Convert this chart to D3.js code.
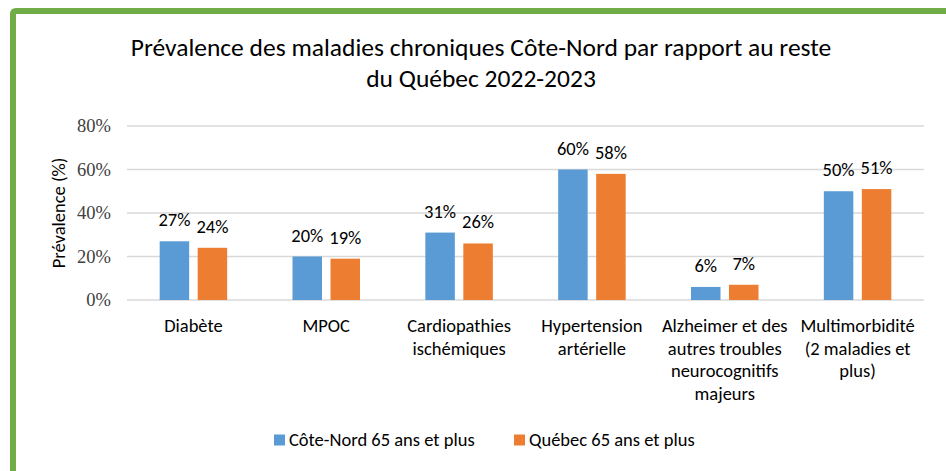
<!DOCTYPE html>
<html>
<head>
<meta charset="utf-8">
<script src="https://cdn.jsdelivr.net/npm/d3@7"></script>
<style>
  body { margin: 0; background: #fff; }
  svg { display: block; }
</style>
</head>
<body>
<svg id="chart"></svg>
<script>
// data
var categories = ["Diabète", "MPOC", "Cardiopathies ischémiques", "Hypertension artérielle",
                  "Alzheimer et des autres troubles neurocognitifs majeurs", "Multimorbidité (2 maladies et plus)"];
var catLines = [["Diabète"], ["MPOC"], ["Cardiopathies", "ischémiques"], ["Hypertension", "artérielle"],
                ["Alzheimer et des", "autres troubles", "neurocognitifs", "majeurs"],
                ["Multimorbidité", "(2 maladies et", "plus)"]];
var coteNord = [27, 20, 31, 60, 6, 50];
var quebec = [24, 19, 26, 58, 7, 51];
var seriesNames = ["Côte-Nord 65 ans et plus", "Québec 65 ans et plus"];
var seriesColors = ["#5B9BD5", "#ED7D31"];
var yTicks = [0, 20, 40, 60, 80];
var titleLines = ["Prévalence des maladies chroniques Côte-Nord par rapport au reste", "du Québec 2022-2023"];

var W = 946, H = 471;
var sans = "Carlito, Lato, sans-serif";
var fs = 18.5;
var svg = d3.select("#chart").attr("width", W).attr("height", H);

svg.append("rect").attr("width", W).attr("height", H).attr("fill", "#fff");

// green frame
svg.append("path")
    .attr("d", "M13,480 L13,14 Q13,11 16,11 L960,11")
    .attr("fill", "none").attr("stroke", "#70AD47").attr("stroke-width", 6);

var plot = {left: 127, right: 924, top: 126, bottom: 300};

var x = d3.scaleBand().domain(d3.range(categories.length)).range([plot.left, plot.right]).paddingInner(0).paddingOuter(0);
var y = d3.scaleLinear().domain([0, 80]).range([plot.bottom, plot.top]);

// gridlines
svg.append("g").selectAll("line").data(yTicks).enter().append("line")
    .attr("x1", plot.left).attr("x2", plot.right)
    .attr("y1", function(d){ return y(d); }).attr("y2", function(d){ return y(d); })
    .attr("stroke", "#D9D9D9").attr("stroke-width", 1.3);

// y tick labels
svg.append("g").selectAll("text").data(yTicks).enter().append("text")
    .attr("x", 111).attr("y", function(d){ return y(d) + 6; })
    .attr("text-anchor", "end")
    .style("font-family", "\"Liberation Serif\", \"Times New Roman\", Times, serif")
    .attr("font-size", 18.5).attr("fill", "#404040")
    .text(function(d){ return d + "%"; });

// y axis title
svg.append("text")
    .attr("transform", "translate(65,213) rotate(-90)")
    .attr("text-anchor", "middle")
    .attr("font-family", sans).attr("font-size", fs).attr("fill", "#000")
    .text("Prévalence (%)");

// bars
var barW = 29.5, gap = 8.5;
var series = [coteNord, quebec];
series.forEach(function(vals, s){
    var off = s == 0 ? -(gap/2 + barW) : gap/2;
    var g = svg.append("g");
    g.selectAll("rect").data(vals).enter().append("rect")
        .attr("x", function(d, i){ return x(i) + x.bandwidth()/2 + off; })
        .attr("y", function(d){ return y(d); })
        .attr("width", barW)
        .attr("height", function(d){ return y(0) - y(d); })
        .attr("fill", seriesColors[s]);
    g.selectAll("text").data(vals).enter().append("text")
        .attr("x", function(d, i){ return x(i) + x.bandwidth()/2 + off + barW/2; })
        .attr("y", function(d){ return y(d) - 15; })
        .attr("text-anchor", "middle")
        .attr("font-family", sans).attr("font-size", fs).attr("fill", "#000")
        .text(function(d){ return d + "%"; });
});

// category labels
var cat = svg.append("g").selectAll("text").data(catLines).enter().append("text")
    .attr("text-anchor", "middle")
    .attr("font-family", sans).attr("font-size", fs).attr("fill", "#000");
cat.each(function(lines, i){
    var t = d3.select(this);
    lines.forEach(function(l, k){
        t.append("tspan").attr("x", x(i) + x.bandwidth()/2).attr("y", 332 + k * 22.5).text(l);
    });
});

// title
svg.append("g").selectAll("text").data(titleLines).enter().append("text")
    .attr("x", 481).attr("y", function(d, i){ return 56 + i * 31; })
    .attr("text-anchor", "middle")
    .attr("font-family", sans).attr("font-size", 25.5).attr("font-weight", 300).attr("fill", "#000")
    .text(function(d){ return d; });

// legend
var legX = [274, 514];
seriesNames.forEach(function(n, s){
    svg.append("rect").attr("x", legX[s]).attr("y", 434.5).attr("width", 11).attr("height", 11)
        .attr("fill", seriesColors[s]);
    svg.append("text").attr("x", legX[s] + 15).attr("y", 445.5)
        .attr("font-family", sans).attr("font-size", fs).attr("fill", "#000")
        .text(n);
});
</script>
</body>
</html>
